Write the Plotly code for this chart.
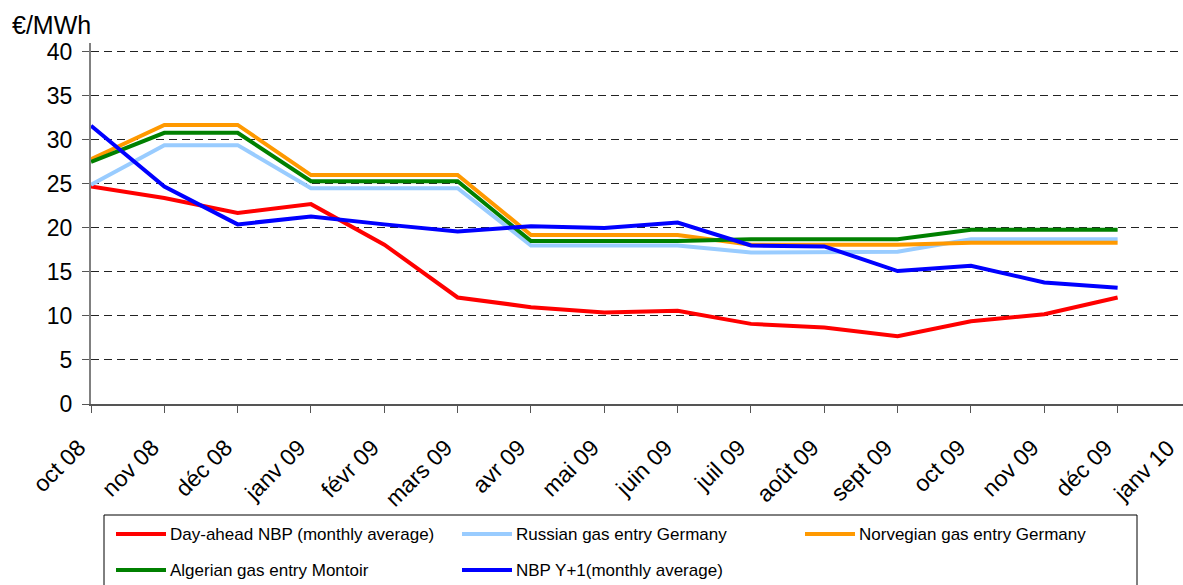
import plotly.graph_objects as go

# Month categories (x axis) and series values in €/MWh
months = ["oct 08", "nov 08", "déc 08", "janv 09", "févr 09", "mars 09", "avr 09",
          "mai 09", "juin 09", "juil 09", "août 09", "sept 09", "oct 09", "nov 09",
          "déc 09", "janv 10"]

day_ahead_nbp = [24.7, 23.4, 21.7, 22.7, 18.1, 12.1, 11.0, 10.4, 10.6, 9.1, 8.7, 7.7, 9.4, 10.2, 12.1]
russian_germany = [24.9, 29.4, 29.4, 24.5, 24.5, 24.5, 18.0, 18.0, 18.0, 17.2, 17.3, 17.3, 18.7, 18.7, 18.7]
norvegian_germany = [27.8, 31.7, 31.7, 26.0, 26.0, 26.0, 19.2, 19.2, 19.2, 18.1, 18.1, 18.1, 18.3, 18.3, 18.3]
algerian_montoir = [27.5, 30.8, 30.8, 25.3, 25.3, 25.3, 18.5, 18.5, 18.5, 18.7, 18.7, 18.7, 19.8, 19.8, 19.8]
nbp_y1 = [31.6, 24.7, 20.4, 21.3, 20.4, 19.6, 20.2, 20.0, 20.6, 18.0, 17.9, 15.1, 15.7, 13.8, 13.2]

series_names = ["Day-ahead NBP (monthly average)", "Russian gas entry Germany",
                "Norvegian gas entry Germany", "Algerian gas entry Montoir",
                "NBP Y+1(monthly average)"]
series_values = [day_ahead_nbp, russian_germany, norvegian_germany, algerian_montoir, nbp_y1]
series_colors = ["#FF0000", "#99CCFF", "#FF9900", "#008000", "#0000FF"]

y_ticks = [0, 5, 10, 15, 20, 25, 30, 35, 40]

W, H = 1183, 585
ML, MR, MT, MB = 91, 0, 43, 181
MONTH_PX = 73.33
FONT = "Liberation Sans, Arial, sans-serif"
X_FONT = 23

fig = go.Figure()
for name, vals, col in zip(series_names, series_values, series_colors):
    fig.add_trace(go.Scatter(
        x=list(range(len(vals))), y=vals, mode="lines", name=name,
        line=dict(color=col, width=4), showlegend=False,
    ))

# pixel -> paper helpers for decorations placed around the plot area
pw, ph = W - ML - MR, H - MT - MB
def px(x):
    return (x - ML) / pw
def py(y):
    return (H - MB - y) / ph

shapes = []
annotations = []

# legend box with line swatches
shapes.append(dict(type="rect", xref="paper", yref="paper",
                   x0=px(104), x1=px(1137), y0=py(600), y1=py(515),
                   line=dict(color="black", width=1), fillcolor="rgba(0,0,0,0)"))
legend_slots = [(116, 534), (462, 534), (805, 534), (116, 570), (462, 570)]
for (lx, ly), name, col in zip(legend_slots, series_names, series_colors):
    shapes.append(dict(type="line", xref="paper", yref="paper",
                       x0=px(lx), x1=px(lx + 50), y0=py(ly), y1=py(ly),
                       line=dict(color=col, width=4)))
    annotations.append(dict(xref="paper", yref="paper", x=px(lx + 52), y=py(ly),
                            text=name, showarrow=False, xanchor="left", yanchor="middle",
                            font=dict(family=FONT, size=17, color="black")))

# unit label above the value axis
annotations.append(dict(xref="paper", yref="paper", x=px(10), y=py(25), text="€/MWh",
                        showarrow=False, xanchor="left", yanchor="middle",
                        font=dict(family=FONT, size=25, color="black")))

# last month label sits past the right edge of the plotting area
last_tick_px = ML + MONTH_PX * (len(months) - 1)
annotations.append(dict(xref="paper", yref="paper", x=px(last_tick_px - 9), y=py(432),
                        text=months[-1], showarrow=False, textangle=-45,
                        xanchor="right", yanchor="top",
                        font=dict(family=FONT, size=X_FONT, color="black")))

fig.update_layout(
    width=W, height=H,
    margin=dict(l=ML, r=MR, t=MT, b=MB),
    paper_bgcolor="white", plot_bgcolor="white",
    font=dict(family=FONT, size=X_FONT, color="black"),
    shapes=shapes, annotations=annotations,
    xaxis=dict(
        range=[0, pw / MONTH_PX], tickmode="array",
        tickvals=list(range(len(months) - 1)), ticktext=months[:-1],
        tickangle=-45, ticks="outside", ticklen=7, tickcolor="#555",
        ticklabelstandoff=12, ticklabelshift=-12,
        showline=True, linecolor="#555", linewidth=2,
        showgrid=False, zeroline=False, tickfont=dict(size=X_FONT),
    ),
    yaxis=dict(
        range=[0, 41], tickvals=y_ticks, ticks="outside", ticklen=7, tickcolor="#555",
        ticklabelstandoff=5,
        showline=True, linecolor="#808080", linewidth=2,
        showgrid=True, gridcolor="#222", gridwidth=1, griddash="8px,5px",
        zeroline=False, tickfont=dict(size=23),
    ),
)

fig.write_html("out.html")
